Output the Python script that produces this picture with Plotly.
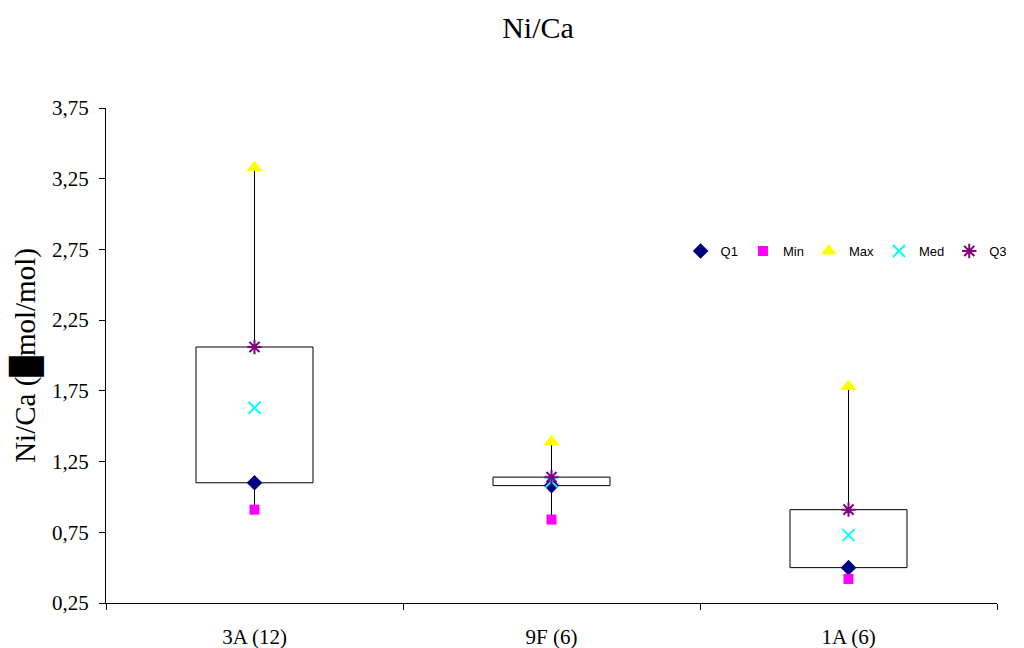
import plotly.graph_objects as go

categories = ["3A (12)", "9F (6)", "1A (6)"]
q1 = [1.10, 1.08, 0.50]
vmin = [0.91, 0.84, 0.42]
vmax = [3.33, 1.39, 1.78]
med = [1.63, 1.11, 0.73]
q3 = [2.06, 1.14, 0.91]

fig = go.Figure()

# whisker segments (outside the box)
wx, wy = [], []
for c, lo, a, b, hi in zip(categories, vmin, q1, q3, vmax):
    wx += [c, c, None, c, c, None]
    wy += [b, hi, None, lo, a, None]
fig.add_trace(go.Scatter(x=wx, y=wy, mode="lines", line=dict(color="black", width=1),
                         showlegend=False, hoverinfo="skip"))

# box (Q1..Q3)
fig.add_trace(go.Bar(x=categories, y=[b - a for a, b in zip(q1, q3)], base=q1, width=0.394,
                     marker=dict(color="white", line=dict(color="black", width=1)),
                     showlegend=False, hoverinfo="skip"))

series = [
    ("Q1", q1, "diamond", "#000080", 12, 0),
    ("Min", vmin, "square", "#FF00FF", 10, 0),
    ("Max", vmax, "triangle-up", "#FFFF00", 14, 0),
    ("Med", med, "x-thin-open", "#00FFFF", 12, 2),
    ("Q3", q3, "asterisk-open", "#800080", 12, 2),
]
for name, vals, sym, col, size, lw in series:
    fig.add_trace(go.Scatter(x=categories, y=vals, mode="markers", name=name,
                             marker=dict(symbol=sym, color=col, size=size,
                                         line=dict(color=col, width=lw))))

# page body has an 8px margin: figure is 1016x640 placed at (8, 8)
fig.update_layout(
    width=1016, height=640,
    margin=dict(l=98, r=27, t=100, b=45, autoexpand=False),
    plot_bgcolor="white", paper_bgcolor="white",
    separators=", ",
    title=dict(text="Ni/Ca", x=0.5217, xref="container", xanchor="center", y=0.9703, yanchor="middle",
               font=dict(family="Liberation Serif", size=30, color="black")),
    font=dict(family="Liberation Serif", size=21, color="black"),
    legend=dict(orientation="h", xref="container", yref="container",
                x=0.662, y=0.6203, xanchor="left", yanchor="middle",
                font=dict(family="Liberation Sans", size=13, color="black"),
                itemwidth=30, tracegroupgap=0, bgcolor="rgba(0,0,0,0)"),
    barmode="overlay",
)
fig.update_xaxes(type="category", showgrid=False, showline=True, linecolor="black", linewidth=1,
                 ticks="outside", tickson="boundaries", ticklen=6, tickcolor="black",
                 ticklabelstandoff=15, range=[-0.5, 2.5], automargin=False,
                 tickfont=dict(family="Liberation Serif", size=21, color="black"))
fig.update_yaxes(range=[0.25, 3.75], dtick=0.5, tick0=0.25, tickformat=".2f", showgrid=False,
                 zeroline=False, showline=True, linecolor="black", linewidth=1,
                 ticks="outside", ticklen=6, tickcolor="black", ticklabelstandoff=6,
                 automargin=False,
                 tickfont=dict(family="Liberation Serif", size=21, color="black"),
                 title=dict(text="Ni/Ca (\u2588mol/mol)", standoff=10,
                            font=dict(family="Liberation Serif", size=29, color="black")))

fig.write_html("out.html")
